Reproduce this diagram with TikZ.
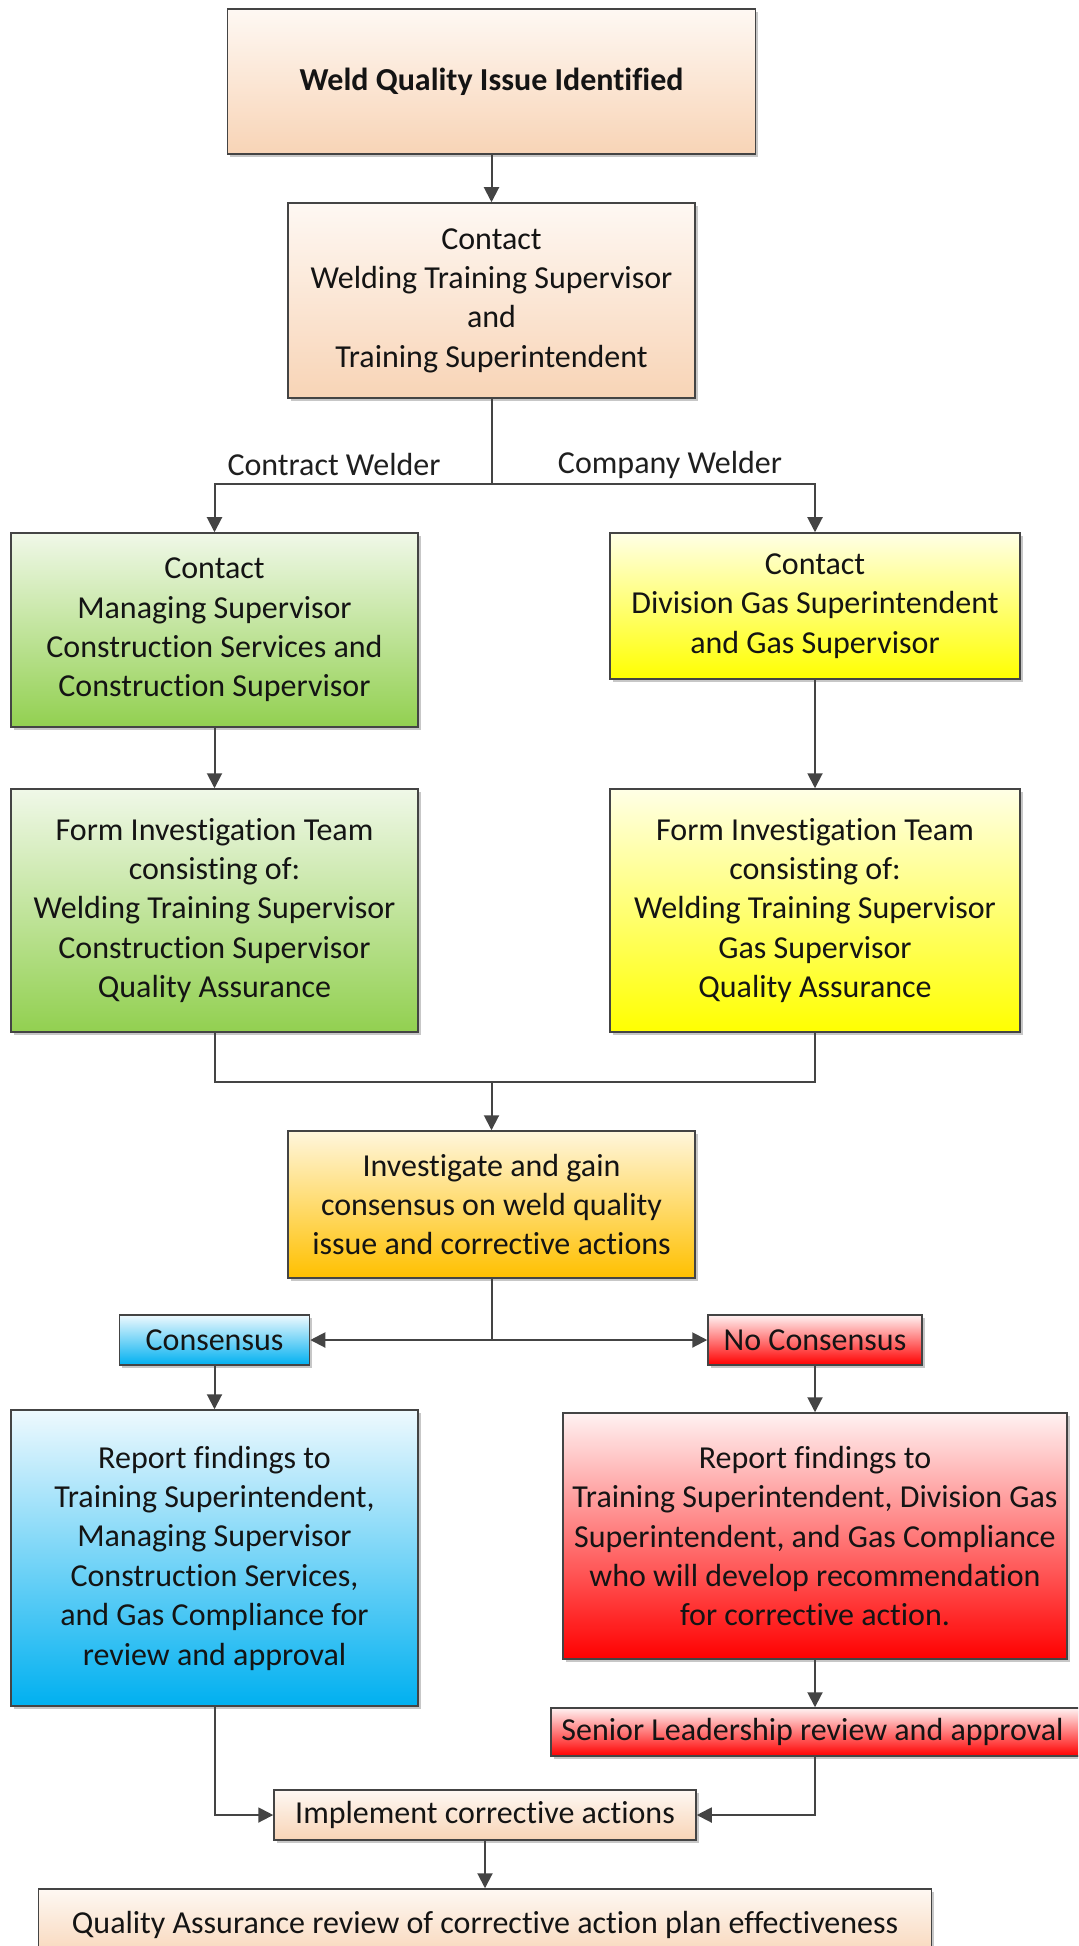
\documentclass[tikz,border=0pt]{standalone}
\usepackage{fontspec}
\setmainfont{Carlito}[Ligatures=NoCommon]
\usetikzlibrary{arrows.meta,shadows,calc}
\definecolor{peachT}{HTML}{FEF8F3}
\definecolor{peachB}{HTML}{F8D4B6}
\definecolor{greenT}{HTML}{F0F8E8}
\definecolor{greenB}{HTML}{92D050}
\definecolor{yellowT}{HTML}{FFFFE6}
\definecolor{yellowB}{HTML}{FFFF00}
\definecolor{orangeT}{HTML}{FFF6DC}
\definecolor{orangeB}{HTML}{FFC000}
\definecolor{blueT}{HTML}{EEF9FE}
\definecolor{blueB}{HTML}{00B0F0}
\definecolor{redT}{HTML}{FFF2F2}
\definecolor{redB}{HTML}{FF0000}
\definecolor{lineC}{HTML}{444444}
\begin{document}
\begin{tikzpicture}[x=0.5pt,y=-0.5pt,
  box/.style={draw=lineC, line width=0.75pt, inner sep=0pt, align=center,
    font=\fontsize{16pt}{19.7pt}\selectfont, text=black!92,
    drop shadow={shadow xshift=1.3pt,shadow yshift=-1.3pt,fill=black,opacity=0.22}},
  peach/.style={box, top color=peachT, bottom color=peachB},
  greenbox/.style={box, top color=greenT, bottom color=greenB},
  yellowbox/.style={box, top color=yellowT, bottom color=yellowB},
  orangebox/.style={box, top color=orangeT, bottom color=orangeB},
  bluebox/.style={box, top color=blueT, bottom color=blueB},
  redbox/.style={box, top color=redT, bottom color=redB},
  ln/.style={draw=lineC, line width=1pt},
  arr/.style={ln, -{Triangle[length=7.5pt,width=7.5pt]}},
  lbl/.style={font=\fontsize{16pt}{19.7pt}\selectfont, text=black!88, inner sep=0pt}
]
\useasboundingbox (0,0) rectangle (1078,1946);
\clip (0,0) rectangle (1078,1946);

% nodes
\node[peach, minimum width=264pt, minimum height=72.5pt] (top) at (491.5,81.5)
  {\textbf{Weld Quality Issue Identified}};
\node[peach, minimum width=203.5pt, minimum height=97.5pt] (contact) at (491.5,300.5)
  {Contact\\Welding Training Supervisor\\and\\Training Superintendent};
\node[greenbox, minimum width=203.5pt, minimum height=97pt] (g1) at (214.5,630)
  {Contact\\Managing Supervisor\\Construction Services and\\Construction Supervisor};
\node[yellowbox, minimum width=205pt, minimum height=73pt] (y1) at (815,606)
  {Contact\\Division Gas Superintendent\\and Gas Supervisor};
\node[greenbox, minimum width=203.5pt, minimum height=121.5pt] (g2) at (214.5,910.5)
  {Form Investigation Team\\consisting of:\\Welding Training Supervisor\\Construction Supervisor\\Quality Assurance};
\node[yellowbox, minimum width=205pt, minimum height=121.5pt] (y2) at (815,910.5)
  {Form Investigation Team\\consisting of:\\Welding Training Supervisor\\Gas Supervisor\\Quality Assurance};
\node[orangebox, minimum width=203.5pt, minimum height=73.5pt] (inv) at (491.5,1204.5)
  {Investigate and gain\\consensus on weld quality\\issue and corrective actions};
\node[bluebox, minimum width=95pt, minimum height=25pt] (cons) at (214.5,1340) {Consensus};
\node[redbox, minimum width=107pt, minimum height=25pt] (ncons) at (815,1340) {No Consensus};
\node[bluebox, minimum width=203.5pt, minimum height=148pt] (blue) at (214.5,1558)
  {Report findings to\\Training Superintendent,\\Managing Supervisor\\Construction Services,\\and Gas Compliance for\\review and approval};
\node[redbox, minimum width=252pt, minimum height=123pt] (red) at (815,1536)
  {Report findings to\\Training Superintendent, Division Gas\\Superintendent, and Gas Compliance\\who will develop recommendation\\for corrective action.};
\node[redbox, minimum width=265.5pt, minimum height=24pt] (senior) at (816.5,1732)
  {\hspace*{-4pt}Senior Leadership review and approval};
\node[peach, minimum width=211pt, minimum height=25pt] (impl) at (485,1815)
  {Implement corrective actions};
\node[peach, minimum width=446.5pt, minimum height=36pt] (qa) at (485,1925)
  {\raisebox{3pt}{Quality Assurance review of corrective action plan effectiveness}};

% labels
\node[lbl] (lc) at (334,465) {Contract Welder};
\node[lbl] (lr) at (670,465) {Company Welder};

% connectors
\coordinate (br) at (491.5,484);
\coordinate (mg) at (491.5,1082);
\coordinate (sp) at (inv.south |- cons.east);

\draw[arr] (top.south) -- (contact.north);
\draw[ln] (contact.south) -- (br);
\draw[arr] (br) -| (g1.north);
\draw[arr] (br) -| (y1.north);
\draw[arr] (g1.south) -- (g2.north);
\draw[arr] (y1.south) -- (y2.north);
\draw[ln] (g2.south) |- (mg) -| (y2.south);
\draw[arr] (mg) -- (inv.north);
\draw[ln] (inv.south) -- (sp);
\draw[arr] (sp) -- (cons.east);
\draw[arr] (sp) -- (ncons.west);
\draw[arr] (cons.south) -- (blue.north);
\draw[arr] (ncons.south) -- (red.north);
\draw[arr] (red.south) -- (red.south |- senior.north);
\draw[arr] (blue.south) |- (impl.west);
\draw[arr] (red.south |- senior.south) |- (impl.east);
\draw[arr] (impl.south) -- (qa.north);
\end{tikzpicture}
\end{document}
